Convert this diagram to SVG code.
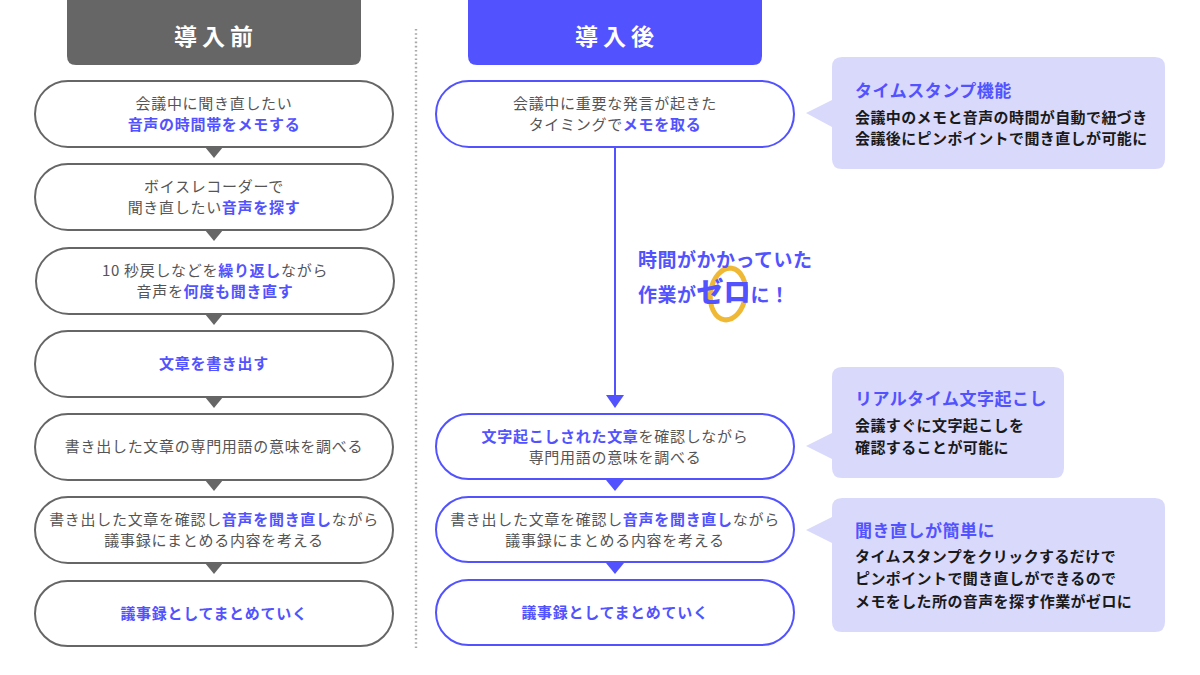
<svg xmlns="http://www.w3.org/2000/svg" width="1200" height="675" viewBox="0 0 1200 675">
<style>
text{font-family:"Noto Sans CJK JP","Noto Sans",sans-serif}
.pillL{fill:#fff;stroke:#666;stroke-width:2}
.pillR{fill:#fff;stroke:#5252ff;stroke-width:2}
.nt{font-size:15px;fill:#555;text-anchor:middle;letter-spacing:0.7px}
.b{font-weight:700;fill:#5252ff}
.hd{font-size:23px;font-weight:700;fill:#fff;text-anchor:middle;letter-spacing:5px}
.triL{fill:#666}
.triR{fill:#5252ff}
.call{fill:#d9d9fc}
.ct{font-size:17px;font-weight:700;fill:#5252ff;letter-spacing:0.5px}
.cb{font-size:15px;font-weight:700;fill:#1a1a1a;letter-spacing:0.4px}
.mid{font-size:19px;font-weight:700;fill:#5252ff;letter-spacing:0.5px}
</style>
<rect width="1200" height="675" fill="#fff"/>
<line x1="416" y1="29" x2="416" y2="650" stroke="#aaa" stroke-width="2.4" stroke-dasharray="1.6 2.6"/>
<g id="header-before">
<path d="M67,0 H361 V56 Q361,65 352,65 H76 Q67,65 67,56 Z" fill="#666"/>
<text class="hd" x="216" y="45">導入前</text>
</g>
<g id="header-after">
<path d="M468,0 H762 V56 Q762,65 753,65 H477 Q468,65 468,56 Z" fill="#5252ff"/>
<text class="hd" x="617" y="45">導入後</text>
</g>
<g id="connectors">
<path class="triL" d="M205,147 H223 L214,158 Z"/>
<path class="triL" d="M205,230 H223 L214,241 Z"/>
<path class="triL" d="M205,314 H223 L214,325 Z"/>
<path class="triL" d="M205,397 H223 L214,408 Z"/>
<path class="triL" d="M205,480 H223 L214,491 Z"/>
<path class="triL" d="M205,563 H223 L214,574 Z"/>
<line x1="615" y1="147" x2="615" y2="397" stroke="#5252ff" stroke-width="2"/>
<path class="triR" d="M606,395 H624 L615,408 Z"/>
<path class="triR" d="M606,480 H624 L615,491 Z"/>
<path class="triR" d="M606,563 H624 L615,574 Z"/>
</g>
<g id="before-1">
<rect class="pillL" x="35" y="81" width="358" height="66" rx="33"/>
<text class="nt" x="214" y="109">会議中に聞き直したい</text>
<text class="nt" x="214" y="130"><tspan class="b">音声の時間帯をメモする</tspan></text>
</g>
<g id="before-2">
<rect class="pillL" x="35" y="164" width="358" height="66" rx="33"/>
<text class="nt" x="214" y="192">ボイスレコーダーで</text>
<text class="nt" x="214" y="213">聞き直したい<tspan class="b">音声を探す</tspan></text>
</g>
<g id="before-3">
<rect class="pillL" x="36" y="248" width="358" height="66" rx="33"/>
<text class="nt" x="215" y="276">10 秒戻しなどを<tspan class="b">繰り返し</tspan>ながら</text>
<text class="nt" x="215" y="297">音声を<tspan class="b">何度も聞き直す</tspan></text>
</g>
<g id="before-4">
<rect class="pillL" x="35" y="331" width="358" height="66" rx="33"/>
<text class="nt" x="214" y="369"><tspan class="b">文章を書き出す</tspan></text>
</g>
<g id="before-5">
<rect class="pillL" x="35" y="414" width="358" height="66" rx="33"/>
<text class="nt" x="214" y="452">書き出した文章の専門用語の意味を調べる</text>
</g>
<g id="before-6">
<rect class="pillL" x="35" y="497" width="358" height="66" rx="33"/>
<text class="nt" x="214" y="525">書き出した文章を確認し<tspan class="b">音声を聞き直し</tspan>ながら</text>
<text class="nt" x="214" y="546">議事録にまとめる内容を考える</text>
</g>
<g id="before-7">
<rect class="pillL" x="35" y="581" width="358" height="65" rx="32.5"/>
<text class="nt" x="214" y="619"><tspan class="b">議事録としてまとめていく</tspan></text>
</g>
<g id="after-1">
<rect class="pillR" x="436" y="81" width="358" height="66" rx="33"/>
<text class="nt" x="615" y="109">会議中に重要な発言が起きた</text>
<text class="nt" x="615" y="130">タイミングで<tspan class="b">メモを取る</tspan></text>
</g>
<g id="zero-note">
<ellipse cx="728" cy="294" rx="17.5" ry="26" fill="none" stroke="#efb935" stroke-width="5" transform="rotate(8 728 294)"/>
<text class="mid" x="638" y="267">時間がかかっていた</text>
<text class="mid" x="638" y="302">作業が<tspan font-size="27px" font-weight="900" letter-spacing="0">ゼロ</tspan>に！</text>
</g>
<g id="after-2">
<rect class="pillR" x="436" y="414" width="358" height="65" rx="32.5"/>
<text class="nt" x="615" y="442"><tspan class="b">文字起こしされた文章</tspan>を確認しながら</text>
<text class="nt" x="615" y="463">専門用語の意味を調べる</text>
</g>
<g id="after-3">
<rect class="pillR" x="436" y="497" width="358" height="65" rx="32.5"/>
<text class="nt" x="615" y="525">書き出した文章を確認し<tspan class="b">音声を聞き直し</tspan>ながら</text>
<text class="nt" x="615" y="546">議事録にまとめる内容を考える</text>
</g>
<g id="after-4">
<rect class="pillR" x="436" y="580" width="358" height="65" rx="32.5"/>
<text class="nt" x="615" y="618"><tspan class="b">議事録としてまとめていく</tspan></text>
</g>
<g id="callout-timestamp">
<path class="call" d="M842,57 H1155 Q1165,57 1165,67 V159 Q1165,169 1155,169 H842 Q832,169 832,159 V127 L806,113 L832,100 V67 Q832,57 842,57 Z"/>
<text class="ct" x="855" y="97">タイムスタンプ機能</text>
<text class="cb" x="855" y="123">会議中のメモと音声の時間が自動で紐づき</text>
<text class="cb" x="855" y="144">会議後にピンポイントで聞き直しが可能に</text>
</g>
<g id="callout-transcribe">
<path class="call" d="M842,367 H1054 Q1064,367 1064,377 V468 Q1064,478 1054,478 H842 Q832,478 832,468 V459 L806,446 L832,433 V377 Q832,367 842,367 Z"/>
<text class="ct" x="855" y="405">リアルタイム文字起こし</text>
<text class="cb" x="855" y="431">会議すぐに文字起こしを</text>
<text class="cb" x="855" y="453">確認することが可能に</text>
</g>
<g id="callout-relisten">
<path class="call" d="M842,498 H1155 Q1165,498 1165,508 V622 Q1165,632 1155,632 H842 Q832,632 832,622 V543 L806,530 L832,517 V508 Q832,498 842,498 Z"/>
<text class="ct" x="855" y="537">聞き直しが簡単に</text>
<text class="cb" x="855" y="562">タイムスタンプをクリックするだけで</text>
<text class="cb" x="855" y="584">ピンポイントで聞き直しができるので</text>
<text class="cb" x="855" y="607">メモをした所の音声を探す作業がゼロに</text>
</g>
</svg>
